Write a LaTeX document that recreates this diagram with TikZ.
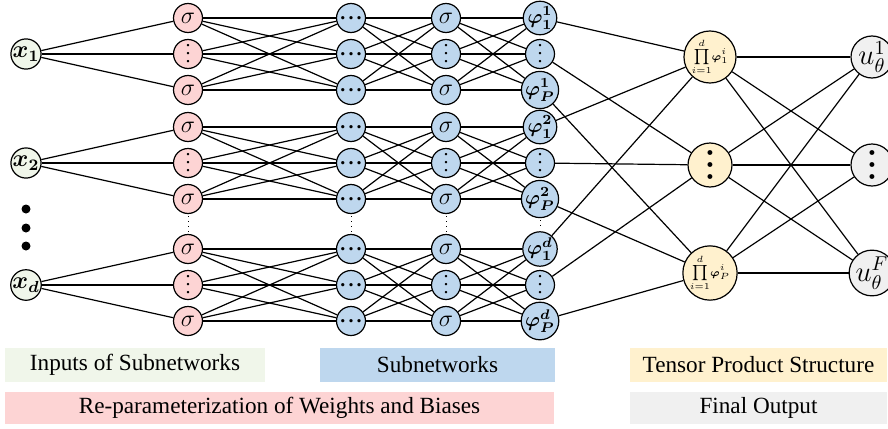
\documentclass[tikz,border=0pt]{standalone}
\usepackage[no-math]{fontspec}
\setmainfont{Liberation Serif}
\usepackage{amsmath,amssymb,graphicx}
\usepackage{tikz}
\usetikzlibrary{positioning}

\definecolor{inpgreen}{RGB}{240,246,234}
\definecolor{repred}{RGB}{253,212,212}
\definecolor{subblue}{RGB}{190,215,238}
\definecolor{tenyellow}{RGB}{255,241,206}
\definecolor{outgray}{RGB}{240,240,240}

\tikzset{neuron/.style={circle, draw, line width=0.6pt, inner sep=0pt, minimum size=14.5pt}}
\tikzset{inp/.style={neuron, fill=inpgreen, minimum size=14.5pt, font=\large}}
\tikzset{rep/.style={neuron, fill=repred}}
\tikzset{sub/.style={neuron, fill=subblue}}
\tikzset{prodn/.style={neuron, fill=tenyellow, minimum size=22pt}}
\tikzset{outn/.style={neuron, fill=outgray, minimum size=21pt, font=\Large}}
\tikzset{conn/.style={draw, line width=0.6pt}}
\tikzset{gapdots/.style={draw, dotted, line width=0.5pt, shorten <=1pt, shorten >=1pt}}
\tikzset{legend/.style={rectangle, inner sep=0pt, minimum height=17pt, font=\fontsize{11.6}{13}\selectfont}}

% three stacked dots: #1 spacing, #2 the dot
\newcommand\stackdots[2]{\vbox{\baselineskip=#1\lineskiplimit=0pt\hbox{#2}\hbox{#2}\hbox{#2}}}
\newcommand\prodlabel[1]{\scalebox{0.9}{\fontsize{6}{7}\selectfont$\displaystyle\prod_{i=1}^{d}\!\boldsymbol{\varphi}_{#1}^{i}$}}
\newcommand\bigcdots{\hbox{\textbf{.}\kern1.6pt\textbf{.}\kern1.6pt\textbf{.}}}
\newcommand\sig{{\large$\sigma$}}

% one subnetwork: #1 index, #2 y of its first row
\newcommand\subgroup[2]{
		\node[rep] (r#11) at (188,#2) {\sig};
		\node[rep] (r#12) at (188,{#2+36}) {\stackdots{4pt}{.}};
		\node[rep] (r#13) at (188,{#2+72}) {\sig};
		\node[sub] (a#11) at (351,#2) {\bigcdots};
		\node[sub] (a#12) at (351,{#2+36}) {\bigcdots};
		\node[sub] (a#13) at (351,{#2+72}) {\bigcdots};
		\node[sub] (b#11) at (446,#2) {\sig};
		\node[sub] (b#12) at (446,{#2+36}) {\stackdots{4pt}{.}};
		\node[sub] (b#13) at (446,{#2+72}) {\sig};
		\node[sub] (p#11) at (540,#2) {$\boldsymbol{\varphi^{#1}_{1}}$};
		\node[sub] (p#12) at (540,{#2+36}) {\stackdots{4pt}{.}};
		\node[sub] (p#13) at (540,{#2+72}) {$\boldsymbol{\varphi^{#1}_{P}}$};
	}
% all edges between two columns of one subnetwork
\newcommand\fullconn[3]{
		\foreach \i in {1,2,3}{\foreach \j in {1,2,3}{\draw[conn] (#1#3\i) -- (#2#3\j);}}
	}

\begin{document}
\begin{tikzpicture}[x=0.5pt, y=-0.5pt]
		\useasboundingbox (0,0) rectangle (888,428);
		
		\node[inp] (x1) at (26,54) {$\boldsymbol{x_1}$};
		\node[inp] (x2) at (26,163) {$\boldsymbol{x_2}$};
		\node[inp] (xd) at (26,285) {$\boldsymbol{x_d}$};
		\foreach \y in {209,228,246} \fill (26,\y) circle (2.25pt);
		
		\subgroup{1}{18}
		\subgroup{2}{127}
		\subgroup{d}{249}
		
		\node[prodn] (t1) at (710,57) {\prodlabel{1}};
		\node[prodn] (t2) at (710,165) {\stackdots{6.2pt}{\tiny$\bullet$}};
		\node[prodn] (t3) at (710,273) {\prodlabel{P}};
		
		\node[outn] (u1) at (872,57) {$u_\theta^1$};
		\node[outn] (u2) at (872,165) {\stackdots{6.2pt}{\tiny$\bullet$}};
		\node[outn] (u3) at (872,273) {$u_\theta^F$};
		
		\foreach \k in {1,2,3}
			\draw[conn] (x1) -- (r1\k) (x2) -- (r2\k) (xd) -- (rd\k);
		\foreach \g in {1,2,d}{
			\fullconn{r}{a}{\g}
			\fullconn{a}{b}{\g}
			\fullconn{b}{p}{\g}
			\draw[conn] (p\g1) -- (t1) (p\g2) -- (t2) (p\g3) -- (t3);
		}
		\foreach \i in {1,2,3}{\foreach \j in {1,2,3}{\draw[conn] (t\i) -- (u\j);}}
		\foreach \col in {r,a,b,p}
			\draw[gapdots] (\col 23) -- (\col d1);
		
		% legend
		\node[legend, fill=inpgreen, minimum width=130pt] (lin) at (135,365) {Inputs of Subnetworks};
		\node[legend, fill=subblue, minimum width=117.5pt] (lsub) at (437.5,365) {Subnetworks};
		\node[legend, fill=tenyellow, minimum width=128.5pt] (lten) at (758.5,365) {Tensor Product Structure};
		\node[legend, fill=repred, minimum width=274.5pt, minimum height=16pt] (lrep) at (279.5,408) {Re-parameterization of Weights and Biases};
		\node[legend, fill=outgray, minimum width=128.5pt, minimum height=16pt] (lout) at (758.5,408) {Final Output};
	\end{tikzpicture}
\end{document}
